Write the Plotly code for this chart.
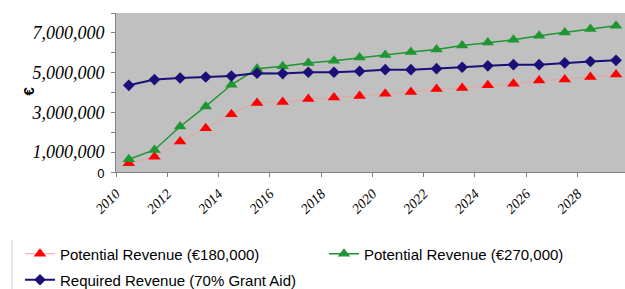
import plotly.graph_objects as go

years = [2010.5 + i for i in range(20)]
rev_180 = [0.44e6, 0.77e6, 1.53e6, 2.20e6, 2.91e6, 3.47e6, 3.52e6, 3.67e6, 3.75e6, 3.82e6,
           3.94e6, 4.02e6, 4.17e6, 4.23e6, 4.36e6, 4.44e6, 4.60e6, 4.66e6, 4.78e6, 4.91e6]
rev_270 = [0.64e6, 1.11e6, 2.29e6, 3.30e6, 4.39e6, 5.20e6, 5.32e6, 5.49e6, 5.60e6, 5.76e6,
           5.89e6, 6.04e6, 6.16e6, 6.36e6, 6.52e6, 6.65e6, 6.85e6, 7.02e6, 7.20e6, 7.36e6]
required = [4.36e6, 4.65e6, 4.73e6, 4.78e6, 4.83e6, 4.97e6, 4.95e6, 5.02e6, 5.02e6, 5.07e6,
            5.15e6, 5.15e6, 5.20e6, 5.27e6, 5.34e6, 5.40e6, 5.40e6, 5.49e6, 5.56e6, 5.62e6]

x_ticks = [2010, 2012, 2014, 2016, 2018, 2020, 2022, 2024, 2026, 2028]
y_ticks = [0, 1e6, 3e6, 5e6, 7e6]
y_labels = ["<span style='font-family:Liberation Sans;font-style:normal;font-size:13px'>0</span>",
            "1,000,000", "3,000,000", "5,000,000", "7,000,000"]
y_minor = [2e6, 4e6, 6e6, 8e6]

names = ["Potential Revenue (€180,000)", "Potential Revenue (€270,000)",
         "Required Revenue (70% Grant Aid)"]

W, H = 625, 289
L, R, T, B = 116, 0, 13, 117
pw, ph = W - L - R, H - T - B


def px_x(p):
    return (p - L) / pw


def px_y(p):
    return (H - B - p) / ph


def cx(p):
    return p / W


def cy(p):
    return 1 - p / H


fig = go.Figure()
fig.add_trace(go.Scatter(x=years, y=rev_180, name=names[0], mode="lines+markers",
                         line=dict(color="#E9A3A3", width=1, shape="spline", smoothing=0.6),
                         marker=dict(symbol="triangle-up", size=11, color="#FF0000"),
                         legend="legend"))
fig.add_trace(go.Scatter(x=years, y=rev_270, name=names[1], mode="lines+markers",
                         line=dict(color="#1E9632", width=1.5),
                         marker=dict(symbol="triangle-up", size=11, color="#1E9632"),
                         legend="legend3"))
fig.add_trace(go.Scatter(x=years, y=required, name=names[2], mode="lines+markers",
                         line=dict(color="#1A1078", width=2),
                         marker=dict(symbol="diamond", size=9, color="#1A1078"),
                         legend="legend2"))

legend_font = dict(family="Liberation Sans", size=15, color="#000000")


def leg(xp, yp):
    return dict(orientation="h", xref="container", yref="container",
                x=cx(xp), y=cy(yp), xanchor="left", yanchor="middle",
                font=legend_font, bgcolor="rgba(0,0,0,0)")


fig.update_layout(
    width=W, height=H,
    margin=dict(l=L, r=R, t=T, b=B, pad=0),
    paper_bgcolor="#FFFFFF",
    plot_bgcolor="#C0C0C0",
    showlegend=True,
    legend=leg(20, 254),
    legend3=leg(324, 254),
    legend2=leg(20, 280),
    xaxis=dict(range=[2010, 2029.85], tickmode="array", tickvals=x_ticks,
               ticktext=[str(v) for v in x_ticks], tickangle=-45,
               tickfont=dict(family="Liberation Serif", size=14, color="#000000", style="italic"),
               ticks="outside", ticklen=4, tickcolor="#808080", ticklabelstandoff=3,
               showline=True, linecolor="#808080", linewidth=1,
               showgrid=False, zeroline=False),
    yaxis=dict(range=[0, 8e6], tickmode="array", tickvals=y_ticks, ticktext=y_labels,
               tickfont=dict(family="Liberation Serif", size=18, color="#000000", style="italic"),
               ticks="outside", ticklen=4, tickcolor="#808080", ticklabelstandoff=3,
               minor=dict(tickmode="array", tickvals=y_minor, ticks="outside", ticklen=4,
                          tickcolor="#808080", showgrid=False),
               showline=True, linecolor="#808080", linewidth=1,
               showgrid=False, zeroline=False),
    annotations=[dict(text="<b>€</b>", x=px_x(17), y=px_y(91), xref="paper", yref="paper",
                      showarrow=False, textangle=-90,
                      font=dict(family="Liberation Sans", size=15, color="#000000"))],
    shapes=[dict(type="line", xref="paper", yref="paper", x0=px_x(12), x1=px_x(12),
                 y0=px_y(240), y1=px_y(289), line=dict(color="#D0D0D0", width=1))],
)

fig.write_html("out.html", config={"displayModeBar": False},
               post_script="document.body.style.margin='0';document.body.style.overflow='hidden';")
